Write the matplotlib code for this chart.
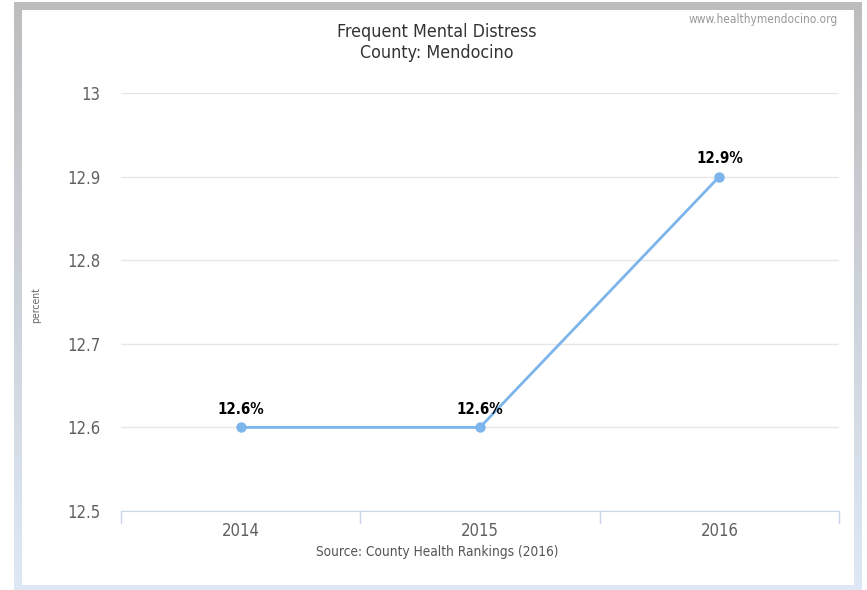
import matplotlib.pyplot as plt
import numpy as np
from matplotlib.patches import Rectangle

# data
years = ["2014", "2015", "2016"]
values = [12.6, 12.6, 12.9]
point_labels = ["12.6%", "12.6%", "12.9%"]
y_ticks = [12.5, 12.6, 12.7, 12.8, 12.9, 13]
y_tick_labels = ["12.5", "12.6", "12.7", "12.8", "12.9", "13"]

W, H = 867, 590
plt.rcParams['font.family'] = ['DejaVu Sans']

fig = plt.figure(figsize=(W / 100, H / 100), dpi=100)
fig.patch.set_facecolor('white')


def fx(px):
    return px / W


def fy(py):
    return 1 - py / H


# ---- outer frame: gray at top fading to light blue at bottom ----
bg = fig.add_axes([fx(14), fy(590), fx(862 - 14), fy(2) - fy(590)], zorder=-2)
grad = np.linspace(0, 1, 256)[:, None]
top = np.array([189, 189, 189]) / 255
bottom = np.array([222, 232, 246]) / 255
img = top[None, None, :] * (1 - grad[..., None]) + bottom[None, None, :] * grad[..., None]
img = np.repeat(img, 2, axis=1)
bg.imshow(img, aspect='auto', extent=[0, 1, 0, 1])
bg.add_patch(Rectangle((8 / 848, 5 / 588), 832 / 848, 575 / 588,
                       facecolor='white', edgecolor='none'))
bg.set_xlim(0, 1)
bg.set_ylim(0, 1)
bg.axis('off')

# ---- main plot area ----
ax = fig.add_axes([fx(121), fy(511), fx(839 - 121), fy(93) - fy(511)])
ax.set_facecolor('none')
x = np.arange(len(years))
ax.plot(x, values, color='#7cb5ec', linewidth=2, marker='o', markersize=7.5,
        markeredgewidth=0, zorder=3, clip_on=False)
for xi, v, lab in zip(x, values, point_labels):
    ax.annotate(lab, (xi, v), xytext=(0, 7.5), textcoords='offset points',
                ha='center', va='bottom', fontsize=10.8, fontweight='bold',
                color='black', fontstretch='condensed')

ax.set_xlim(-0.5, 2.5)
ax.set_ylim(12.5, 13)
ax.set_yticks(y_ticks)
ax.set_yticklabels(y_tick_labels)
ax.set_xticks(x)
ax.set_xticklabels(years)
ax.tick_params(axis='y', length=0, pad=15, labelsize=12, labelcolor='#606060')
ax.tick_params(axis='x', length=0, pad=8, labelsize=12, labelcolor='#606060')
for lab in ax.get_xticklabels() + ax.get_yticklabels():
    lab.set_fontstretch('condensed')

# boundary ticks between categories
for b in [-0.5, 0.5, 1.5, 2.5]:
    ax.plot([b, b], [12.5, 12.5 - 0.014], color='#ccd6eb', linewidth=1,
            clip_on=False)

ax.grid(axis='y', color='#e6e6e6', linewidth=1)
ax.set_axisbelow(True)
for side in ['top', 'right', 'left']:
    ax.spines[side].set_visible(False)
ax.spines['bottom'].set_color('#ccd6eb')

# ---- texts ----
fig.text(fx(437), fy(32), "Frequent Mental Distress", ha='center', va='center',
         fontsize=12.8, color='#333333', fontstretch='condensed')
fig.text(fx(437), fy(53), "County: Mendocino", ha='center', va='center',
         fontsize=12.8, color='#333333', fontstretch='condensed')
fig.text(fx(838), fy(20), "www.healthymendocino.org", ha='right', va='center',
         fontsize=8.6, color='#999999', fontstretch='condensed')
fig.text(fx(36), fy(305), "percent", ha='center', va='center', rotation=90,
         fontsize=7.5, color='#666666', fontstretch='condensed')
fig.text(fx(437), fy(552), "Source: County Health Rankings (2016)", ha='center',
         va='center', fontsize=9.8, color='#555555', fontstretch='condensed')

fig.savefig('out.png', dpi=100)
